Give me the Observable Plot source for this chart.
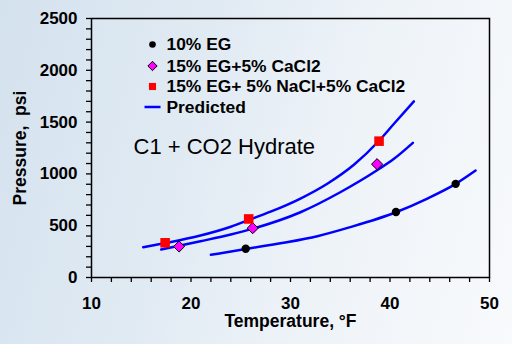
<!DOCTYPE html>
<html><head><meta charset="utf-8">
<script src="https://cdn.jsdelivr.net/npm/d3@7"></script>
<script src="https://cdn.jsdelivr.net/npm/@observablehq/plot@0.6"></script>
<style>
html,body{margin:0;padding:0;width:512px;height:344px;overflow:hidden;}
body{background: linear-gradient(105deg, #d4e2ee 0%, #e0eaf3 35%, #eef3f8 65%, #f8fafc 100%);}
#chart svg{display:block;}
</style></head><body><div id="chart"></div>
<script>
// Measured points (Temperature °F, Pressure psi)
const eg10T = [25.5, 40.6, 46.6];
const eg10P = [278, 632, 904];
const egCaT = [18.8, 26.2, 38.7];
const egCaP = [299, 476, 1094];
const egNaCaT = [17.4, 25.8, 38.9];
const egNaCaP = [335, 565, 1316];

// Predicted curves
const predNaCaT = [15.2, 17.3, 20.95, 24.0, 25.8, 28.0, 31.0, 33.7, 36.4, 38.9, 40.4, 42.4];
const predNaCaP = [292, 330, 405, 490, 555, 635, 762, 905, 1090, 1320, 1484, 1700];
const predCaT = [17.0, 20.95, 24.0, 26.25, 31.0, 35.0, 38.7, 40.4, 42.3];
const predCaP = [270, 350, 415, 472, 630, 823, 1035, 1146, 1300];
const predEgT = [22.0, 25.5, 29.3, 32.7, 36.0, 40.6, 43.7, 46.6, 48.6];
const predEgP = [219, 275, 335, 399, 486, 630, 760, 904, 1033];

const legendLabels = ["10% EG", "15% EG+5% CaCl2", "15% EG+ 5% NaCl+5% CaCl2", "Predicted"];
const chartLabel = "C1 + CO2 Hydrate";
const xTitle = "Temperature, \u00B0F";
const yTitle = "Pressure,  psi";
const xTicks = d3.range(10, 51, 2);
const yTicks = d3.range(0, 2501, 100);

const toRows = (T, P) => T.map((t, i) => ({t, p: P[i]}));
const blue = "#0000ff";
const lineSym = {draw(ctx) { ctx.moveTo(-8, 0); ctx.lineTo(8, 0); }};

const legendRows = [
  {dy: 26, opts: {r: 3.3, fill: "black", symbol: "circle"}},
  {dy: 47.5, opts: {r: 4.2, fill: "#ff00ff", stroke: "black", strokeWidth: 1, symbol: "diamond2"}},
  {dy: 68, opts: {r: 4, fill: "#ff0000", symbol: "square"}},
  {dy: 88.5, opts: {r: 4, fill: "none", stroke: blue, strokeWidth: 2.5, symbol: lineSym}}
];

const chart = Plot.plot({
  width: 512, height: 344,
  marginLeft: 91, marginRight: 23, marginTop: 18, marginBottom: 67,
  x: {domain: [10, 50]},
  y: {domain: [0, 2500]},
  style: {background: "transparent", fontFamily: "'Liberation Sans', Arial, sans-serif", fontSize: "17px", fontWeight: "bold", color: "black", overflow: "visible"},
  marks: [
    Plot.axisX({ticks: xTicks, tickSize: 5, tickPadding: 14, strokeWidth: 1.3, tickFormat: d => d % 10 === 0 ? String(d) : "", label: null}),
    Plot.axisY({ticks: yTicks, tickSize: 5, tickPadding: 9, strokeWidth: 1.3, tickFormat: d => d % 500 === 0 ? String(d) : "", label: null}),
    Plot.frame({stroke: "black", strokeWidth: 1.5}),
    Plot.line(toRows(predNaCaT, predNaCaP), {x: "t", y: "p", stroke: blue, strokeWidth: 2.5, curve: "monotone-x"}),
    Plot.line(toRows(predCaT, predCaP), {x: "t", y: "p", stroke: blue, strokeWidth: 2.5, curve: "monotone-x"}),
    Plot.line(toRows(predEgT, predEgP), {x: "t", y: "p", stroke: blue, strokeWidth: 2.5, curve: "monotone-x"}),
    Plot.dot(toRows(eg10T, eg10P), {x: "t", y: "p", r: 4.2, fill: "black", symbol: "circle"}),
    Plot.dot(toRows(egCaT, egCaP), {x: "t", y: "p", r: 5, fill: "#ff00ff", stroke: "black", strokeWidth: 1, symbol: "diamond2"}),
    Plot.dot(toRows(egNaCaT, egNaCaP), {x: "t", y: "p", r: 5.4, fill: "#ff0000", symbol: "square"}),
    ...legendRows.map(row => Plot.dot([0], {frameAnchor: "top-left", dx: 61, dy: row.dy, ...row.opts})),
    ...legendLabels.map((lab, i) => Plot.text([lab], {frameAnchor: "top-left", dx: 75, dy: legendRows[i].dy, text: d => d, textAnchor: "start", lineAnchor: "middle", fontSize: 17.4, fontWeight: "bold", fill: "black"})),
    Plot.text([chartLabel], {frameAnchor: "top-left", dx: 42, dy: 128, text: d => d, textAnchor: "start", lineAnchor: "middle", fontSize: 22, fontWeight: "normal", fill: "black"}),
    Plot.text([xTitle], {frameAnchor: "bottom", dy: 44, text: d => d, textAnchor: "middle", lineAnchor: "middle", fontSize: 17.5, fontWeight: "bold", fill: "black"}),
    Plot.text([yTitle], {frameAnchor: "left", dx: -71, rotate: -90, text: d => d, textAnchor: "middle", lineAnchor: "middle", fontSize: 17.5, fontWeight: "bold", fill: "black"})
  ]
});
document.getElementById("chart").appendChild(chart);
</script>
</body></html>
